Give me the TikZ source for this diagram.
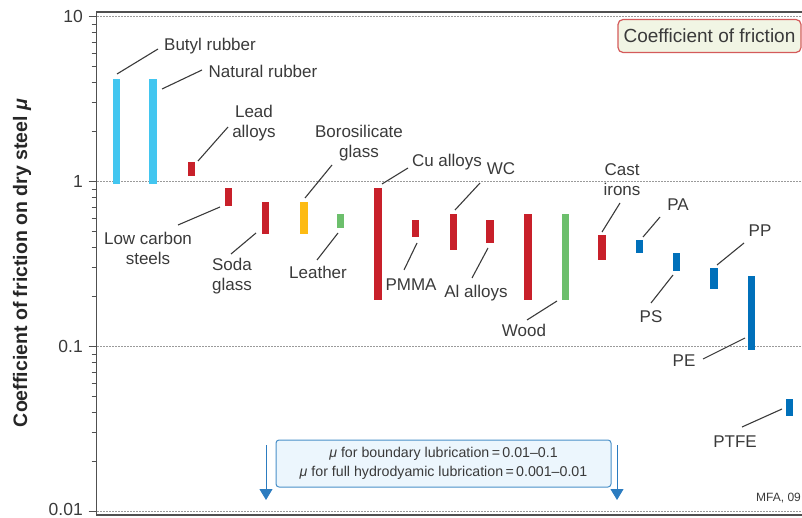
\documentclass[tikz,border=0pt]{standalone}
\usepackage{fontspec}
\setmainfont{Liberation Sans}
\usetikzlibrary{arrows.meta}
\definecolor{txt}{HTML}{3A3A3A}
\definecolor{rubber}{HTML}{42C6F0}
\definecolor{metal}{HTML}{C8202A}
\definecolor{glassy}{HTML}{FDBB13}
\definecolor{natural}{HTML}{6CBF6C}
\definecolor{poly}{HTML}{0070BA}
\definecolor{titleborder}{HTML}{D45A5A}
\definecolor{titlefill}{HTML}{F1F5E4}
\definecolor{boxborder}{HTML}{4A90C8}
\definecolor{boxfill}{HTML}{ECF6FD}
\definecolor{arrowblue}{HTML}{2C7CC0}
\definecolor{gridgray}{HTML}{9A9A9A}
\definecolor{axisgray}{HTML}{505050}
\tikzset{
  bar/.style={rectangle, inner sep=0pt, minimum width=7.5pt, draw=none},
  lbl/.style={text=txt, font=\fontsize{17}{20}\selectfont, align=center, inner sep=0pt},
  leader/.style={draw=txt, line width=1.1pt},
  gridline/.style={draw=gridgray, line width=0.7pt, dash pattern=on 2pt off 1pt},
  axisline/.style={draw=axisgray, line width=1.2pt},
  ticklbl/.style={text=txt, font=\fontsize{17.5}{20}\selectfont, anchor=east, inner sep=0pt},
  downarrow/.style={draw=arrowblue, line width=1pt, -{Triangle[width=13pt,length=11pt]}}
}
\newcommand{\barnode}[5]{% name, x, ytop, ybot, colour
  \pgfmathsetmacro{\bh}{#4-#3}
  \pgfmathsetmacro{\bm}{(#3+#4)/2}
  \node[bar, fill=#5, minimum height=\bh pt] (#1) at (#2,\bm) {};}
\newcommand{\leaderline}[3]{% name, start, end
  \coordinate (#1a) at (#2);
  \coordinate (#1b) at (#3);
  \draw[leader] (#1a) -- (#1b);}
\begin{document}
\begin{tikzpicture}[x=1pt,y=-1pt]
\useasboundingbox (0,0) rectangle (802,518);
% grid
\foreach \yy/\nm in {16.5/ten,181.5/one,346.5/tenth,511.5/hundredth}{
  \coordinate (g\nm a) at (97,\yy);
  \coordinate (g\nm b) at (802,\yy);
  \draw[gridline] (g\nm a) -- (g\nm b);
}
% frame
\coordinate (tl) at (96.5,12);
\coordinate (bl) at (96.5,515);
\coordinate (tr) at (802,12);
\coordinate (br) at (802,515);
\draw[axisline] (tr) -- (tl) -- (bl) -- (br);
% ticks
\foreach \dec in {0,1,2}{
  \foreach \m in {2,...,9}{
    \pgfmathsetmacro{\ty}{16.5+165*\dec+165*(1-log10(\m))}
    \draw[axisgray, line width=0.9pt] (91.5,\ty) -- (96.5,\ty);
  }
}
\foreach \yy in {16.5,181.5,346.5,511.5}{
  \draw[axisgray, line width=0.9pt] (88.5,\yy) -- (96.5,\yy);
}
\node[ticklbl] (t10) at (83,16.5) {10};
\node[ticklbl] (t1) at (83,181.5) {1};
\node[ticklbl] (t01) at (83,346.5) {0.1};
\node[ticklbl] (t001) at (83,509.5) {0.01};
% axis title
\node[text=black!85, rotate=90, font=\bfseries\fontsize{19.5}{22}\selectfont, inner sep=0pt] (ytitle) at (22,263) {Coefficient of friction on dry steel {\itshape μ}};
% bars
\barnode{butyl}{116.5}{79}{184}{rubber}
\barnode{natural}{153}{79}{184}{rubber}
\barnode{lead}{191.5}{162}{176}{metal}
\barnode{lowc}{228.5}{188}{206}{metal}
\barnode{soda}{265.5}{202}{234}{metal}
\barnode{boro}{304}{202}{234}{glassy}
\barnode{leather}{340.5}{214}{228}{natural}
\barnode{cu}{378}{188}{300}{metal}
\barnode{pmma}{415.5}{220}{237}{metal}
\barnode{wc}{453.5}{214}{250}{metal}
\barnode{al}{490}{220}{243}{metal}
\barnode{steelx}{528}{214}{300}{metal}
\barnode{wood}{565.5}{214}{300}{natural}
\barnode{cast}{602}{235}{260}{metal}
\barnode{pa}{639.5}{240}{253}{poly}
\barnode{ps}{676.5}{253}{271}{poly}
\barnode{pp}{714}{268}{289}{poly}
\barnode{pe}{751.5}{276}{350}{poly}
\barnode{ptfe}{789.5}{399}{416}{poly}
% labels
\node[lbl] (lbutyl) at (210,46) {Butyl rubber};
\node[lbl] (lnatural) at (263,71) {Natural rubber};
\node[lbl] (llead) at (254,123) {Lead\\alloys};
\node[lbl] (lboro) at (359,143) {Borosilicate\\glass};
\node[lbl] (llowc) at (148,248) {Low carbon\\steels};
\node[lbl] (lsoda) at (232,276) {Soda\\glass};
\node[lbl] (lleather) at (318,272) {Leather};
\node[lbl] (lcu) at (447,162) {Cu alloys};
\node[lbl] (lwc) at (501,169) {WC};
\node[lbl] (lpmma) at (411,285) {PMMA};
\node[lbl] (lal) at (476,293) {Al alloys};
\node[lbl] (lwood) at (524,330) {Wood};
\node[lbl] (lcast) at (622,180) {Cast\\irons};
\node[lbl] (lpa) at (678,205) {PA};
\node[lbl] (lps) at (651,317) {PS};
\node[lbl] (lpp) at (760,231) {PP};
\node[lbl] (lpe) at (684,361) {PE};
\node[lbl] (lptfe) at (735,442) {PTFE};
% leader lines
\leaderline{kbutyl}{117,74}{158,49}
\leaderline{knatural}{162,89}{202,70}
\leaderline{klead}{198,161}{228,127}
\leaderline{kboro}{305,198}{332,165}
\leaderline{klowc}{178,225}{220,207}
\leaderline{ksoda}{231,254}{256,233}
\leaderline{kleather}{317,260}{338,233}
\leaderline{kcu}{382,184}{408,168}
\leaderline{kwc}{455,210}{480,183}
\leaderline{kpmma}{404,270}{417,243}
\leaderline{kal}{472,278}{488,248}
\leaderline{kwood}{527,320}{557,301}
\leaderline{kcast}{602,232}{620,203}
\leaderline{kpa}{643,237}{660,217}
\leaderline{kps}{651,303}{673,275}
\leaderline{kpp}{717,265}{744,243}
\leaderline{kpe}{703,359}{745,338}
\leaderline{kptfe}{742,427}{782,409}
% title box
\node[draw=titleborder, fill=titlefill, line width=1.2pt, rounded corners=5pt, minimum width=183pt, minimum height=33pt, inner sep=0pt, text=txt, font=\fontsize{19}{22}\selectfont] (title) at (709.5,36) {Coefficient of friction};
% lubrication box
\node[draw=boxborder, fill=boxfill, line width=1pt, rounded corners=3pt, minimum width=335pt, minimum height=47pt, inner sep=0pt, text=txt, align=center, font=\fontsize{14.2}{19}\selectfont] (lubbox) at (443.5,463.5) {{\itshape μ} for boundary lubrication\thinspace=\thinspace0.01–0.1\\{\itshape μ} for full hydrodyamic lubrication\thinspace=\thinspace0.001–0.01};
\coordinate (la1) at (266,445);
\coordinate (la2) at (266,500);
\coordinate (ra1) at (617,445);
\coordinate (ra2) at (617,500);
\draw[downarrow] (la1) -- (la2);
\draw[downarrow] (ra1) -- (ra2);
% credit
\node[text=txt, font=\fontsize{12}{14}\selectfont, anchor=west, inner sep=0pt] (mfa) at (756,498) {MFA, 09};
\end{tikzpicture}
\end{document}
